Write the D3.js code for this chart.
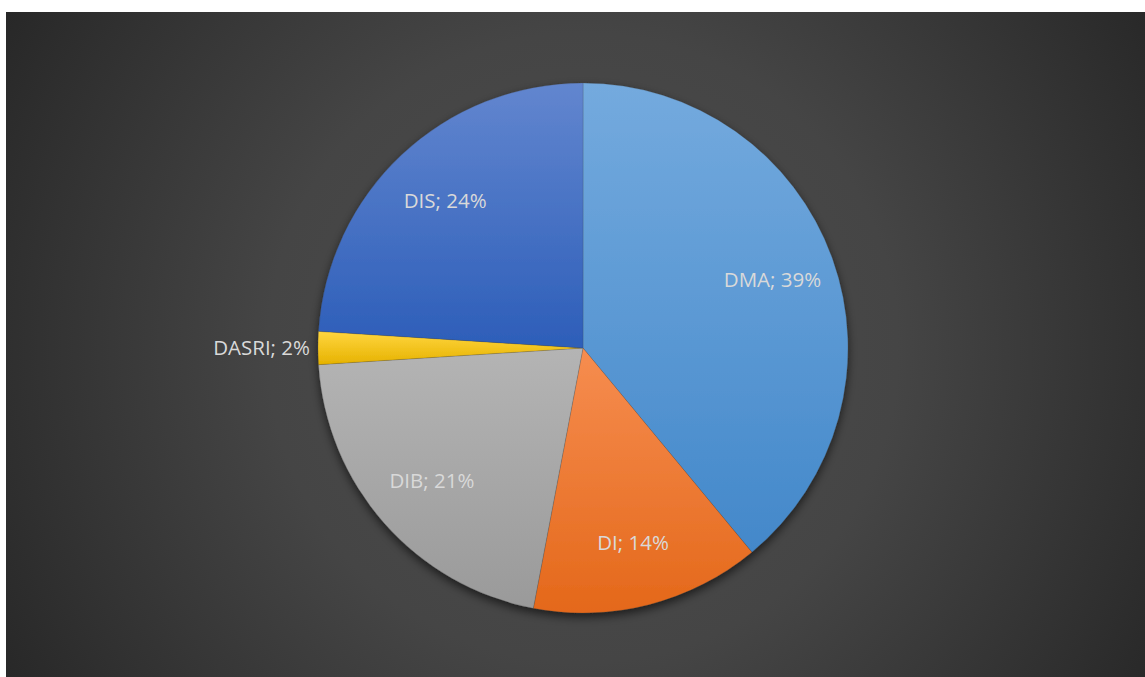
<!DOCTYPE html>
<html>
<head>
<meta charset="utf-8">
<script src="https://cdn.jsdelivr.net/npm/d3@7"></script>
<style>
  html, body { margin: 0; padding: 0; background: #fff; }
  svg { display: block; }
  .lbl { font-family: "Open Sans", "Noto Sans", sans-serif; font-size: 20.5px; fill: #d9d9d9; }
</style>
</head>
<body>
<svg id="chart" width="1145" height="677"></svg>
<script>
// chart data (clockwise from 12 o'clock)
const categories = ["DMA", "DI", "DIB", "DASRI", "DIS"];
const shares = [39, 14, 21, 2, 24];
const topColors = ["#74aade", "#f68d50", "#b4b4b4", "#ffd640", "#6286cf"];
const bottomColors = ["#4388ca", "#e4681a", "#9a9a9a", "#e6b200", "#2d5eb9"];

const data = categories.map((c, i) => ({ name: c, value: shares[i], i: i }));

var svg = d3.select("#chart"),
  W = +svg.attr("width"),
  H = +svg.attr("height"),
  margin = { top: 12, left: 6 },
  cx = 583,
  cy = 348,
  R = 265;

var defs = svg.append("defs");

var bg = defs.append("radialGradient")
  .attr("id", "bg")
  .attr("gradientUnits", "userSpaceOnUse")
  .attr("cx", cx).attr("cy", cy).attr("r", 700);
bg.append("stop").attr("offset", "0").attr("stop-color", "#4d4d4d");
bg.append("stop").attr("offset", "0.45").attr("stop-color", "#454545");
bg.append("stop").attr("offset", "1").attr("stop-color", "#252525");

// vertical gradient per slice, spanning each slice's own box
data.forEach(function(d) {
  var g = defs.append("linearGradient")
    .attr("id", "sl" + d.i)
    .attr("x1", 0).attr("y1", 0).attr("x2", 0).attr("y2", 1);
  g.append("stop").attr("offset", "0").attr("stop-color", topColors[d.i]);
  g.append("stop").attr("offset", "1").attr("stop-color", bottomColors[d.i]);
});

var shadow = defs.append("filter").attr("id", "shadow")
  .attr("x", "-20%").attr("y", "-20%").attr("width", "140%").attr("height", "140%");
shadow.append("feDropShadow")
  .attr("dx", 0).attr("dy", 4).attr("stdDeviation", 5)
  .attr("flood-color", "#000").attr("flood-opacity", 0.6);

svg.append("rect")
  .attr("x", margin.left).attr("y", margin.top)
  .attr("width", W - margin.left).attr("height", H - margin.top)
  .attr("fill", "url(#bg)");

var pie = d3.pie().value(d => d.value).sort(null);
var arcs = pie(data);

var arc = d3.arc().innerRadius(0).outerRadius(R);
var labelArc = d3.arc().innerRadius(R * 0.52).outerRadius(R);

var g = svg.append("g").attr("transform", "translate(" + cx + "," + cy + ")");

g.append("g").attr("filter", "url(#shadow)")
  .selectAll("path")
  .data(arcs)
  .enter()
  .append("path")
  .attr("d", arc)
  .attr("fill", d => "url(#sl" + d.data.i + ")")
  .attr("stroke", "rgba(60,60,60,0.3)")
  .attr("stroke-width", 0.6);

g.selectAll(".lbl")
  .data(arcs)
  .enter()
  .append("text")
  .attr("class", "lbl")
  .attr("transform", function(d) {
    if (d.data.value < 5) {
      var a = (d.startAngle + d.endAngle) / 2;
      return "translate(" + (Math.sin(a) * (R + 8)) + "," + (-Math.cos(a) * (R + 8)) + ")";
    }
    return "translate(" + labelArc.centroid(d) + ")";
  })
  .attr("text-anchor", d => d.data.value < 5 ? "end" : "middle")
  .attr("dy", "0.35em")
  .text(d => d.data.name + "; " + d.data.value + "%");
</script>
</body>
</html>
